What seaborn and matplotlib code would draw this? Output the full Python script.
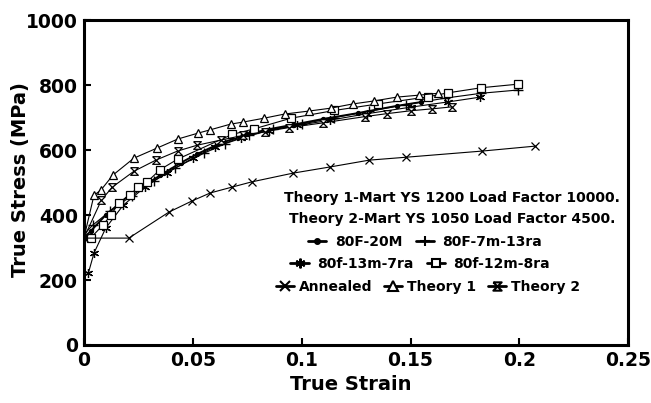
import numpy as np
import pandas as pd
import matplotlib
matplotlib.use("Agg")
import matplotlib.pyplot as plt
from matplotlib.lines import Line2D
import seaborn as sns

# ---------------- data ----------------
annealed_x = [0.0, 0.0206, 0.039, 0.0495, 0.058, 0.068, 0.077, 0.096, 0.113, 0.131, 0.148, 0.183, 0.207]
annealed_y = [329, 329, 409, 443, 468, 486, 502, 529, 548, 569, 578, 597, 612]

theory1_x = [0.0, 0.0046, 0.0078, 0.0133, 0.0229, 0.0335, 0.0431, 0.0523, 0.0578, 0.0674, 0.0729,
             0.0826, 0.0922, 0.1032, 0.1133, 0.1234, 0.1330, 0.1436, 0.1537, 0.1628]
theory1_y = [330, 461, 477, 523, 575, 606, 634, 652, 662, 680, 686,
             698, 711, 720, 729, 742, 751, 763, 769, 775]

theory2_x = [0.0, 0.008, 0.013, 0.023, 0.033, 0.043, 0.052, 0.063, 0.073, 0.083, 0.094,
             0.110, 0.129, 0.139, 0.150, 0.160, 0.169]
theory2_y = [330, 446, 486, 535, 569, 597, 615, 631, 645, 657, 669,
             684, 703, 712, 721, 727, 733]

f20m_x = [0.0, 0.003, 0.010, 0.0216, 0.035, 0.0445, 0.052, 0.063, 0.075, 0.084, 0.096, 0.110, 0.126, 0.1436, 0.155]
f20m_y = [330, 350, 400, 466, 522, 561, 588, 622, 648, 663, 678, 696, 714, 736, 748]

f7m_x = [0.0, 0.004, 0.012, 0.022, 0.032, 0.042, 0.055, 0.065, 0.076, 0.087, 0.100, 0.115, 0.131, 0.148, 0.166, 0.1826, 0.1995]
f7m_y = [340, 369, 412, 460, 505, 545, 590, 620, 645, 664, 680, 700, 720, 740, 760, 775, 785]

f13m_x = [0.002, 0.0046, 0.010, 0.018, 0.028, 0.038, 0.050, 0.060, 0.072, 0.085, 0.098, 0.113, 0.130, 0.150, 0.167, 0.182]
f13m_y = [221, 283, 360, 430, 486, 530, 575, 610, 638, 660, 676, 692, 712, 732, 748, 763]

f12m_x = [0.003, 0.0087, 0.0124, 0.016, 0.021, 0.025, 0.029, 0.035, 0.043, 0.068, 0.078, 0.095,
          0.115, 0.135, 0.158, 0.167, 0.1826, 0.1995]
f12m_y = [329, 369, 400, 437, 461, 486, 502, 540, 572, 648, 665, 698,
          722, 742, 764, 776, 792, 803]

series_names = ["80F-20M", "80F-7m-13ra", "80f-13m-7ra", "80f-12m-8ra", "Annealed", "Theory 1", "Theory 2"]
header_lines = ["Theory 1-Mart YS 1200 Load Factor 10000.",
                "Theory 2-Mart YS 1050 Load Factor 4500."]
x_ticks = [0, 0.05, 0.1, 0.15, 0.2, 0.25]
x_tick_labels = ["0", "0.05", "0.1", "0.15", "0.2", "0.25"]
y_ticks = [0, 200, 400, 600, 800, 1000]

# ---------------- style ----------------
sns.set_theme(style="white")
plt.rcParams['font.family'] = ['DejaVu Sans']
plt.rcParams['font.weight'] = 'bold'
plt.rcParams['text.color'] = 'black'
plt.rcParams['axes.labelcolor'] = 'black'
plt.rcParams['xtick.color'] = 'black'
plt.rcParams['ytick.color'] = 'black'

hourglass = [(-1, 1), (1, 1), (-1, -1), (1, -1), (-1, 1)]

styles = {
    "80F-20M":     dict(marker="o", ms=3.0, mfc="black", mew=0.8, lw=1.4, markevery=None),
    "80F-7m-13ra": dict(marker="+", ms=6.5, mfc="none", mew=1.0, lw=0.8, markevery=None),
    "80f-13m-7ra": dict(marker=(6, 2, 0), ms=6.5, mfc="none", mew=0.9, lw=0.8, markevery=None),
    "80f-12m-8ra": dict(marker="s", ms=5.5, mfc="white", mew=0.9, lw=0.8, markevery=None),
    "Annealed":    dict(marker="x", ms=6.0, mfc="none", mew=0.9, lw=0.8, markevery=None),
    "Theory 1":    dict(marker="^", ms=6.0, mfc="white", mew=0.9, lw=0.8, markevery=slice(1, None)),
    "Theory 2":    dict(marker=hourglass, ms=5.5, mfc="white", mew=0.9, lw=0.8, markevery=slice(1, None)),
}

data = {
    "80F-20M": (f20m_x, f20m_y),
    "80F-7m-13ra": (f7m_x, f7m_y),
    "80f-13m-7ra": (f13m_x, f13m_y),
    "80f-12m-8ra": (f12m_x, f12m_y),
    "Annealed": (annealed_x, annealed_y),
    "Theory 1": (theory1_x, theory1_y),
    "Theory 2": (theory2_x, theory2_y),
}

fig = plt.figure(figsize=(6.51, 4.03), dpi=100)
ax = fig.add_axes([0.129, 0.144, 0.836, 0.806])

handles = {}
for name in series_names:
    xs, ys = data[name]
    df = pd.DataFrame({"strain": xs, "stress": ys})
    st = styles[name]
    sns.lineplot(data=df, x="strain", y="stress", ax=ax, sort=False, estimator=None,
                 color="black", linewidth=st["lw"], marker=st["marker"], markersize=st["ms"],
                 markerfacecolor=st["mfc"], markeredgecolor="black", markeredgewidth=st["mew"],
                 markevery=st["markevery"], legend=False)
    handles[name] = Line2D([], [], color="black", lw=2.0, marker=st["marker"],
                           markersize=st["ms"] + 0.5, markerfacecolor=st["mfc"],
                           markeredgecolor="black", markeredgewidth=1.5)

ax.set_xlim(0, 0.25)
ax.set_ylim(0, 1000)
ax.set_xticks(x_ticks)
ax.set_xticklabels(x_tick_labels)
ax.set_yticks(y_ticks)
ax.tick_params(axis="both", direction="in", length=5, width=1.5, labelsize=13.5, pad=4.5,
               bottom=True, left=True, top=False, right=False, colors="black",
               labelcolor="black")
for lab in ax.get_xticklabels() + ax.get_yticklabels():
    lab.set_fontweight("bold")
for sp in ax.spines.values():
    sp.set_linewidth(2.2)
    sp.set_color("black")

ax.set_xlabel("True Strain", fontsize=14, fontweight="bold", color="black")
ax.set_ylabel("True Stress (MPa)", fontsize=14, fontweight="bold", color="black")
ax.xaxis.set_label_coords(0.49, -0.093)
ax.yaxis.set_label_coords(-0.099, 0.51)

# header text lines
ax.text(0.676, 0.452, header_lines[0], transform=ax.transAxes, ha="center", va="center",
        fontsize=10, fontweight="bold", color="black")
ax.text(0.676, 0.388, header_lines[1], transform=ax.transAxes, ha="center", va="center",
        fontsize=10, fontweight="bold", color="black")

leg_kw = dict(frameon=False, prop=dict(size=10, weight="bold"), handlelength=1.3,
              handletextpad=0.6, columnspacing=1.0, borderpad=0, borderaxespad=0,
              labelspacing=0.2, labelcolor="black")
l1 = ax.legend([handles[n] for n in series_names[:2]], series_names[:2], ncol=2,
               loc="center", bbox_to_anchor=(0.627, 0.317), **leg_kw)
ax.add_artist(l1)
l2 = ax.legend([handles[n] for n in series_names[2:4]], series_names[2:4], ncol=2,
               loc="center", bbox_to_anchor=(0.618, 0.249), **leg_kw)
ax.add_artist(l2)
l3 = ax.legend([handles[n] for n in series_names[4:]], series_names[4:], ncol=3,
               loc="center", bbox_to_anchor=(0.632, 0.180), **dict(leg_kw, columnspacing=0.8,
                                                                    handletextpad=0.4))

fig.savefig("out.png", dpi=100)
